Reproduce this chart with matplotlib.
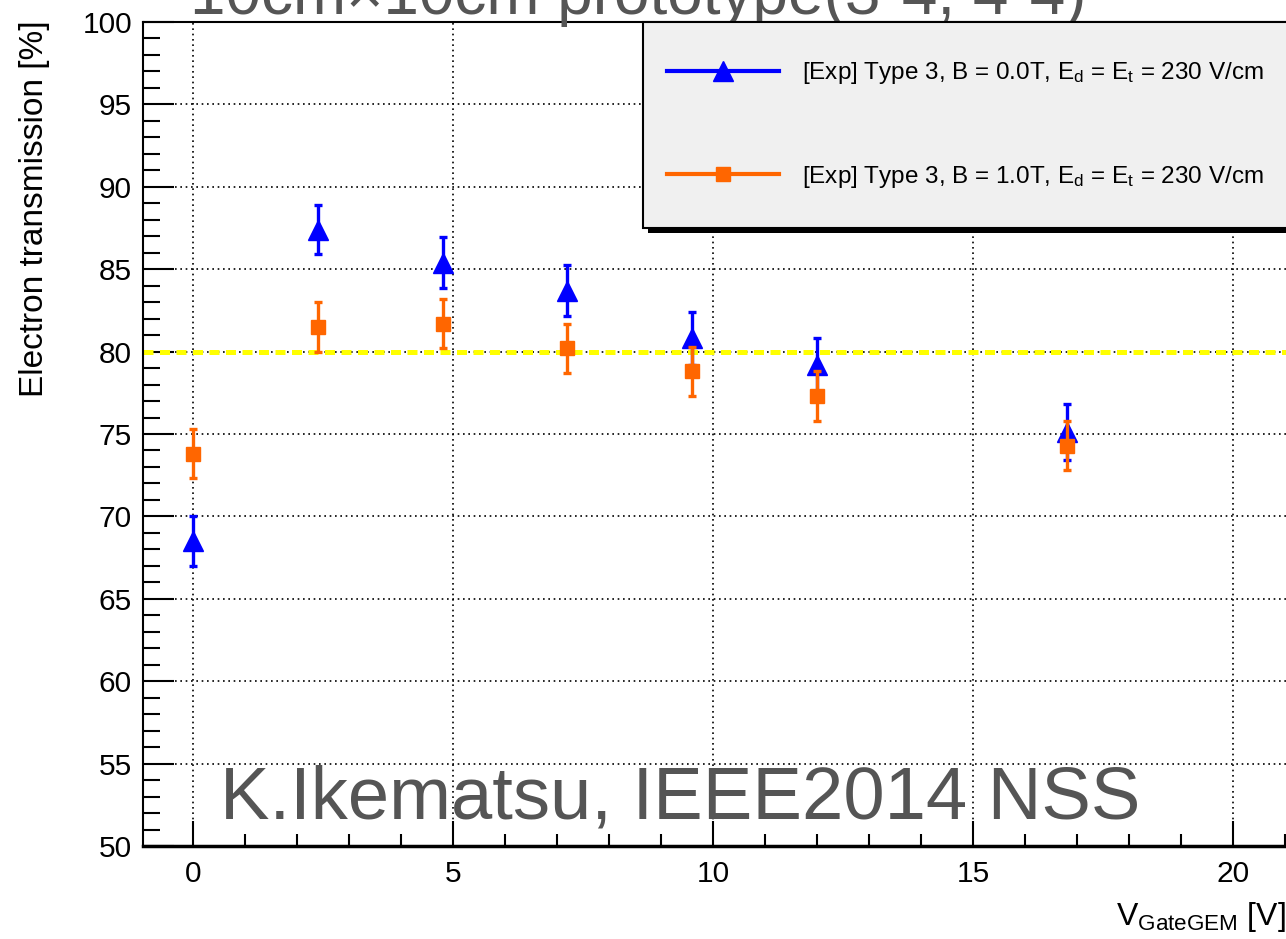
import matplotlib
matplotlib.use("Agg")
import matplotlib.pyplot as plt
from matplotlib.ticker import MultipleLocator
from matplotlib.lines import Line2D
from matplotlib.patches import Rectangle

plt.rcParams['font.family'] = ['Liberation Sans', 'DejaVu Sans']
plt.rcParams['mathtext.fontset'] = 'custom'
plt.rcParams['mathtext.rm'] = 'Liberation Sans'
plt.rcParams['mathtext.it'] = 'Liberation Sans:italic'

# data
v_gate = [0.0, 2.4, 4.8, 7.2, 9.6, 12.0, 16.8]
trans_b0 = [68.5, 87.4, 85.4, 83.7, 80.8, 79.2, 75.1]
err_b0 = [1.5, 1.5, 1.55, 1.55, 1.6, 1.6, 1.7]
trans_b1 = [73.8, 81.5, 81.7, 80.2, 78.8, 77.3, 74.3]
err_b1 = [1.5, 1.5, 1.5, 1.5, 1.5, 1.5, 1.5]
label_b0 = r'[Exp] Type 3, B = 0.0T, E$_{\rm d}$ = E$_{\rm t}$ = 230 V/cm'
label_b1 = r'[Exp] Type 3, B = 1.0T, E$_{\rm d}$ = E$_{\rm t}$ = 230 V/cm'
target = 80

W, H = 1286, 939
fig = plt.figure(figsize=(W / 100, H / 100), dpi=100)
ax = fig.add_axes([143 / W, 1 - 846 / H, 1 - 143 / W, (846 - 22) / H])

ax.set_xlim(-0.96, 21.02)
ax.set_ylim(50, 100)

ax.grid(True, which='major', color='black', linestyle=(0, (1, 2.2)), linewidth=1.2)
ax.axhline(target, color='#ffff00', linestyle=(0, (2, 1.3)), linewidth=3.6, zorder=2)

blue = '#0000ff'
orange = '#ff6600'
ax.errorbar(v_gate, trans_b0, yerr=err_b0, fmt='^', color=blue, ms=14,
            elinewidth=2.4, capsize=3, capthick=2.4, zorder=4)
ax.errorbar(v_gate, trans_b1, yerr=err_b1, fmt='s', color=orange, ms=9.5,
            elinewidth=2.4, capsize=3, capthick=2.4, zorder=5)

ax.xaxis.set_major_locator(MultipleLocator(5))
ax.xaxis.set_minor_locator(MultipleLocator(1))
ax.yaxis.set_major_locator(MultipleLocator(5))
ax.yaxis.set_minor_locator(MultipleLocator(1))
ax.tick_params(which='both', direction='in', top=False, right=False, labelsize=21.5, width=1.5)
ax.tick_params(axis='y', which='major', length=22, pad=8)
ax.tick_params(axis='y', which='minor', length=12)
ax.tick_params(axis='x', which='major', length=18, pad=10)
ax.tick_params(axis='x', which='minor', length=9)
ax.spines['right'].set_visible(False)
ax.spines['bottom'].set_linewidth(2.5)
ax.spines['left'].set_linewidth(1.5)
ax.spines['top'].set_linewidth(1.5)

fig.text(35 / W, 1 - 20 / H, 'Electron transmission [%]', fontsize=24,
         rotation=90, ha='center', va='top')
fig.text(1.0, 1 - 925 / H, r'V$_{\rm GateGEM}$ [V]', fontsize=23, ha='right', va='baseline')

# legend box, running past the right edge like the cropped original
x0, y0, x1, y1 = 643, 22, 1300, 228
fig.patches.append(Rectangle((x0 / W + 5 / W, 1 - (y1 + 5) / H), (x1 - x0) / W, (y1 - y0) / H,
                             transform=fig.transFigure, facecolor='black', edgecolor='none', zorder=8))
fig.patches.append(Rectangle((x0 / W, 1 - y1 / H), (x1 - x0) / W, (y1 - y0) / H,
                             transform=fig.transFigure, facecolor='#f0f0f0', edgecolor='black',
                             linewidth=1.5, zorder=9))
hl0 = Line2D([], [], color=blue, marker='^', ms=14, lw=3)
hl1 = Line2D([], [], color=orange, marker='s', ms=9.5, lw=3)
leg = fig.legend([hl0, hl1], [label_b0, label_b1], loc='center left',
                 bbox_to_anchor=(667 / W, 1 - 125 / H),
                 fontsize=17.5, handlelength=4.6, handletextpad=0.95,
                 borderpad=0, labelspacing=3.2, borderaxespad=0, frameon=False)
leg.set_zorder(10)

fig.text(220 / W, 1 - 818 / H, 'K.Ikematsu, IEEE2014 NSS', fontsize=53.5,
         color='#555555', ha='left', va='baseline', zorder=20)
fig.text(190 / W, 1 - 14 / H, '10cm\u00d710cm prototype(3-4, 4-4)', fontsize=46,
         color='#555555', ha='left', va='baseline')

fig.savefig('out.png', dpi=100)
